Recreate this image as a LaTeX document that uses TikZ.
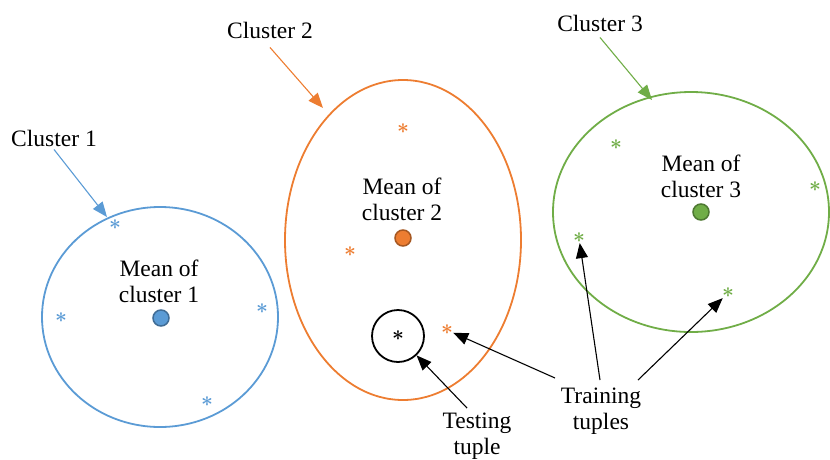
\documentclass[tikz,border=0pt]{standalone}
\usepackage{fontspec}
\setmainfont{Liberation Serif}
\usetikzlibrary{arrows.meta}

\definecolor{cblue}{RGB}{91,155,213}
\definecolor{corange}{RGB}{237,125,49}
\definecolor{cgreen}{RGB}{112,173,71}

\begin{document}
\begin{tikzpicture}[x=1pt, y=-1pt,
    lbl/.style={font=\fontsize{23.5}{26}\selectfont, align=center, inner sep=0pt},
    tup/.style={font=\fontsize{22}{22}\selectfont\boldmath, inner sep=0pt},
    mean/.style={circle, inner sep=0pt, minimum size=16pt, line width=1.5pt},
    ptr/.style={line width=1.1pt, -{Triangle[length=15pt, width=12pt]}}]
\useasboundingbox (0,0) rectangle (830,459);

% clusters
\draw [cblue, line width=1.8pt] (160,317) ellipse [x radius=118, y radius=110];
\draw [corange, line width=1.8pt] (403,240) ellipse [x radius=118, y radius=160];
\draw [cgreen, line width=1.8pt] (691,212) ellipse [x radius=138, y radius=120];

\node [mean, fill=cblue, draw=cblue!70!black] (m1) at (161,318) {};
\node [mean, fill=corange, draw=corange!70!black] (m2) at (403,238) {};
\node [mean, fill=cgreen, draw=cgreen!70!black] (m3) at (701,212) {};

\node [lbl] (t1) at (159,281) {Mean of\\cluster 1};
\node [lbl] (t2) at (402,199) {Mean of\\cluster 2};
\node [lbl] (t3) at (701,176) {Mean of\\cluster 3};

% training tuples
\node [tup, cblue] (a1) at (115,225) {$\ast$};
\node [tup, cblue] (a2) at (61,318) {$\ast$};
\node [tup, cblue] (a3) at (262,309) {$\ast$};
\node [tup, cblue] (a4) at (207,402) {$\ast$};

\node [tup, corange] (b1) at (403,129) {$\ast$};
\node [tup, corange] (b2) at (350,252) {$\ast$};
\node [tup, corange] (b3) at (447,330) {$\ast$};

\node [tup, cgreen] (c1) at (616,145) {$\ast$};
\node [tup, cgreen] (c2) at (815,187) {$\ast$};
\node [tup, cgreen] (c3) at (579,238) {$\ast$};
\node [tup, cgreen] (c4) at (728,293) {$\ast$};

% testing tuple
\node [circle, draw, line width=1.8pt, minimum size=52pt, inner sep=0pt] (test) at (398,336) {};
\node [tup] (x) at (398,336) {$\ast$};

% cluster labels
\node [lbl] (l1) at (54,138) {Cluster 1};
\node [lbl] (l2) at (270,30) {Cluster 2};
\node [lbl] (l3) at (600,23) {Cluster 3};
\coordinate (p1) at (107,217);
\coordinate (p2) at (323,108);
\coordinate (p3) at (652,100);
\draw [ptr, cblue] (l1.south) ++(0,3) -- (p1);
\draw [ptr, corange] (l2.south) ++(0,9) -- (p2);
\draw [ptr, cgreen] (l3.south) ++(0,6) -- (p3);

% bottom labels
\node [lbl] (train) at (601,411) {Training\\tuples};
\node [lbl] (testl) at (477,436) {Testing\\tuple};
\coordinate (q1) at (555,378);
\coordinate (q2) at (600,380);
\coordinate (q3) at (638,380);
\coordinate (q4) at (467,408);
\draw [ptr] (q1) -- (b3);
\draw [ptr] (q2) -- (c3);
\draw [ptr] (q3) -- (c4);
\draw [ptr] (q4) -- (test);
\end{tikzpicture}
\end{document}
